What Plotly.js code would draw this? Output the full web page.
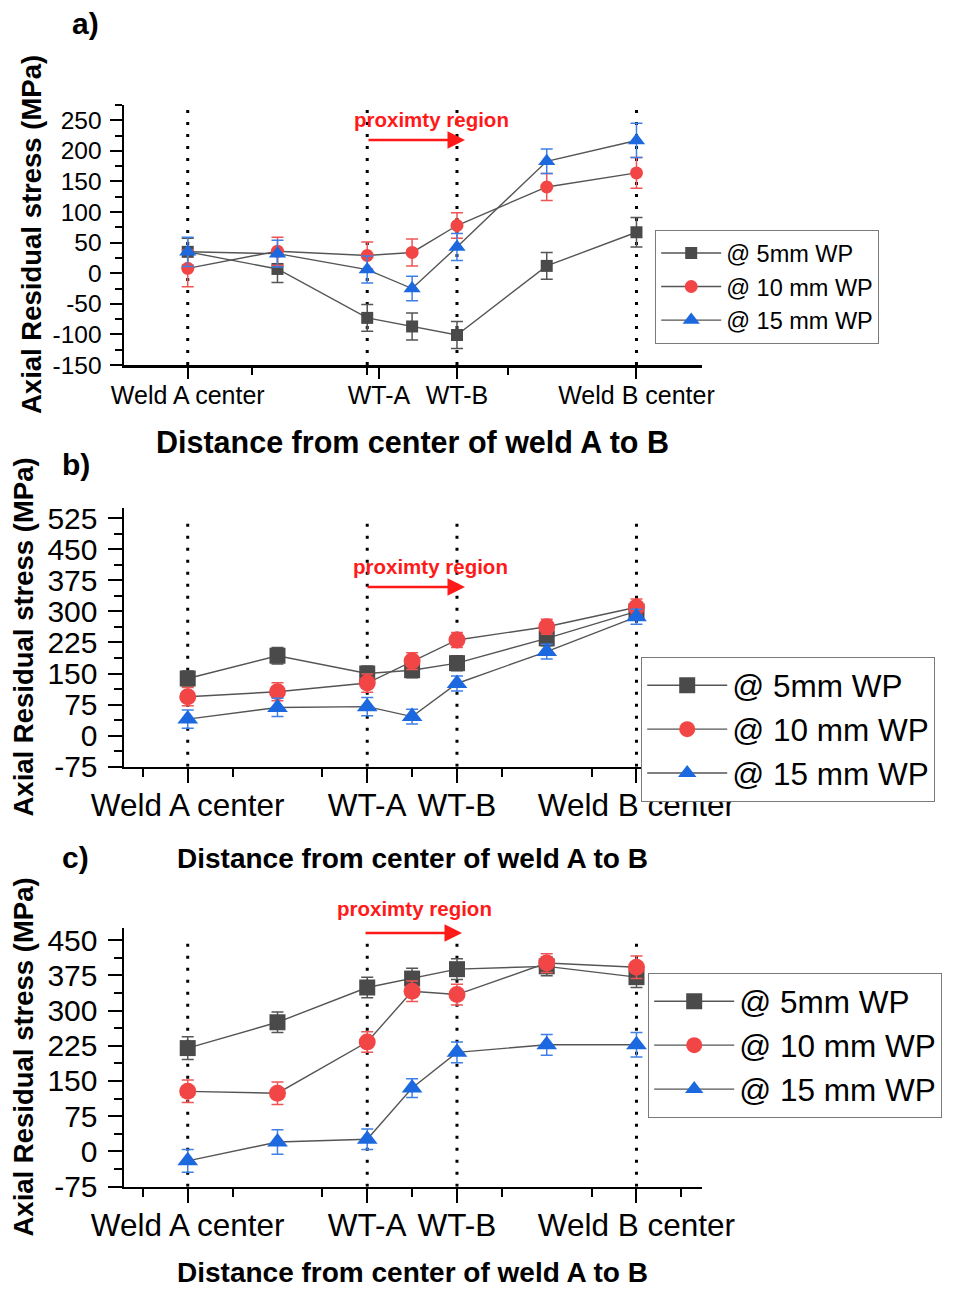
<!DOCTYPE html>
<html>
<head>
<meta charset="utf-8">
<script src="https://cdn.plot.ly/plotly-3.0.1.min.js"></script>
<style>
html,body{margin:0;padding:0;background:#fff;}
#chart{width:967px;height:1290px;}
</style>
</head>
<body>
<div id="chart"></div>
<script>
// ---------- data ----------
const xPositions = [0, 1, 2, 2.5, 3, 4, 5];
const seriesNames = ['@ 5mm WP', '@ 10 mm WP', '@ 15 mm WP'];
const xTickText = ['Weld A center', 'WT-A', 'WT-B', 'Weld B center'];

// panel a)
const a5 = [35, 7, -73, -87, -101, 12, 67];
const a5err = [22, 22, 22, 22, 22, 22, 24];
const a10 = [8, 36, 29, 34, 78, 141, 164];
const a10err = [30, 23, 22, 22, 21, 22, 25];
const a15 = [35, 32, 6, -25, 43, 183, 217];
const a15err = [24, 22, 22, 20, 22, 20, 28];

// panel b)
const b5 = [138, 193, 150, 158, 175, 235, 300];
const b5err = [18, 20, 18, 18, 18, 18, 18];
const b10 = [94, 106, 127, 180, 231, 263, 310];
const b10err = [22, 22, 22, 20, 18, 18, 20];
const b15 = [40, 68, 70, 46, 126, 203, 287];
const b15err = [22, 22, 22, 18, 18, 18, 18];

// panel c)
const c5 = [220, 275, 349, 368, 388, 394, 371];
const c5err = [24, 22, 22, 22, 22, 20, 22];
const c10 = [128, 124, 233, 341, 334, 401, 392];
const c10err = [24, 24, 22, 22, 22, 20, 24];
const c15 = [-20, 20, 26, 135, 211, 227, 227];
const c15err = [24, 26, 22, 20, 22, 22, 26];

const yTicksA = [-150, -100, -50, 0, 50, 100, 150, 200, 250];
const yTicksB = [-75, 0, 75, 150, 225, 300, 375, 450, 525];
const yTicksC = [-75, 0, 75, 150, 225, 300, 375, 450];

// ---------- style ----------
const W = 967, H = 1290;
const FONT = 'Liberation Sans, Arial, Helvetica, sans-serif';
const px = v => v / W;
const py = v => 1 - v / H;
const styles = [
  {symbol: 'square', color: '#4a4a4a', err: '#555555'},
  {symbol: 'circle', color: '#f24646', err: '#f05555'},
  {symbol: 'triangle-up', color: '#1c68de', err: '#3f80e6'}
];

const panels = [
  {xa: 'x', ya: 'y', leg: 'legend', ys: [a5, a10, a15], es: [a5err, a10err, a15err], sizes: [12, 13, 15]},
  {xa: 'x2', ya: 'y2', leg: 'legend2', ys: [b5, b10, b15], es: [b5err, b10err, b15err], sizes: [16, 17, 18]},
  {xa: 'x3', ya: 'y3', leg: 'legend3', ys: [c5, c10, c15], es: [c5err, c10err, c15err], sizes: [16, 17, 18]}
];

const traces = [];
panels.forEach(p => {
  p.ys.forEach((yv, i) => {
    traces.push({
      type: 'scatter', mode: 'lines+markers',
      x: xPositions, y: yv, name: seriesNames[i],
      xaxis: p.xa, yaxis: p.ya, legend: p.leg,
      line: {color: '#555555', width: 1.4},
      marker: {symbol: styles[i].symbol, color: styles[i].color, size: p.sizes[i]},
      error_y: {type: 'data', array: p.es[i], visible: true, color: styles[i].err, thickness: 1.5, width: 6},
      cliponaxis: false
    });
  });
});

function xAxis(anchor, big) {
  return {
    domain: [px(124), px(702)], range: [-0.71, 5.73], anchor: anchor,
    showline: true, linewidth: 2.5, linecolor: '#000', showgrid: false, zeroline: false,
    ticks: 'outside', ticklen: big ? 14 : 11, tickwidth: 2, tickcolor: '#000',
    tickmode: 'array', tickvals: big ? [0, 2, 3, 5] : [0, 2.13, 3, 5], ticktext: xTickText,
    tickfont: {family: FONT, size: big ? 31.5 : 25, color: '#000'},
    ticklabelstandoff: big ? -5 : -5,
    minor: {tickmode: 'array', tickvals: big ? [-0.5, 0.5, 1.5, 2.5, 3.5, 4.5, 5.5] : [0.72, 2, 3.57],
            ticks: 'outside', ticklen: big ? 8 : 7, tickwidth: 2, tickcolor: '#000'},
    fixedrange: true
  };
}
function yAxis(anchor, topPx, botPx, range, tv, step, big) {
  return {
    domain: [py(botPx), py(topPx)], range: range, anchor: anchor,
    showline: true, linewidth: 2.5, linecolor: '#000', showgrid: false, zeroline: false,
    ticks: 'outside', ticklen: big ? 14 : 12, tickwidth: 2, tickcolor: '#000',
    tickmode: 'array', tickvals: tv, ticktext: tv.map(v => String(v)),
    tickfont: {family: FONT, size: big ? 30 : 24.5, color: '#000'},
    ticklabelstandoff: big ? 4 : 3,
    minor: {tickmode: 'linear', tick0: tv[0], dtick: step / 2, ticks: 'outside', ticklen: big ? 8 : 7, tickwidth: 2, tickcolor: '#000'},
    fixedrange: true
  };
}

// dotted vertical guide lines at the labelled positions
const guideX = [0, 2, 3, 5];
const shapes = [];
[['x', 'y', -150, 270], ['x2', 'y2', -75, 517], ['x3', 'y3', -75, 452]].forEach(g => {
  guideX.forEach(gx => shapes.push({
    type: 'line', xref: g[0], yref: g[1], x0: gx, x1: gx, y0: g[2], y1: g[3],
    line: {color: '#000', width: 3, dash: '3px,9px'}, layer: 'below'
  }));
});

const annotations = [];
function txt(x, y, text, size, opts) {
  annotations.push(Object.assign({
    xref: 'paper', yref: 'paper', x: px(x), y: py(y), text: text, showarrow: false,
    xanchor: 'center', yanchor: 'middle', font: {family: FONT, size: size, color: '#000'}
  }, opts || {}));
}
// panel letters
txt(85, 24, '<b>a)</b>', 30);
txt(76, 465, '<b>b)</b>', 30);
txt(75, 857, '<b>c)</b>', 30);
// y titles
txt(31, 235, '<b>Axial Residual stress (MPa)</b>', 27.5, {textangle: -90});
txt(23, 637.5, '<b>Axial Residual stress (MPa)</b>', 27.5, {textangle: -90});
txt(23, 1057.5, '<b>Axial Residual stress (MPa)</b>', 27.5, {textangle: -90});
// x titles
txt(412, 442, '<b>Distance from center of weld A to B</b>', 30.5);
txt(412, 858, '<b>Distance from center of weld A to B</b>', 28);
txt(412, 1272, '<b>Distance from center of weld A to B</b>', 28);
// proximity labels
const RED = '#ff1a1a';
[[431.5, 120], [430, 566], [414, 908]].forEach(p => {
  annotations.push({xref: 'paper', yref: 'paper', x: px(p[0]), y: py(p[1]), text: '<b>proximty region</b>',
    showarrow: false, xanchor: 'center', yanchor: 'middle', font: {family: FONT, size: 20.5, color: RED}});
});
// arrows
[[367, 465, 140], [366, 465, 587], [364, 462, 933]].forEach(a => {
  annotations.push({xref: 'paper', yref: 'paper', x: px(a[1]), y: py(a[2]), ax: a[0] - a[1], ay: 0,
    text: '', showarrow: true, arrowhead: 2, arrowsize: 1.4, arrowwidth: 2.5, arrowcolor: RED, standoff: 0});
});

function legend(x, y, size, iw) {
  return {x: px(x), y: py(y), xanchor: 'left', yanchor: 'top', bgcolor: '#fff',
    bordercolor: '#7a7a7a', borderwidth: 1.2, font: {family: FONT, size: size, color: '#000'},
    itemwidth: iw, tracegroupgap: 0};
}

const layout = {
  width: W, height: H, margin: {l: 0, r: 0, t: 0, b: 0},
  paper_bgcolor: '#fff', plot_bgcolor: 'rgba(0,0,0,0)',
  font: {family: FONT, color: '#000'},
  showlegend: true,
  xaxis: xAxis('y', false),
  yaxis: yAxis('x', 105, 365, [-150, 275], yTicksA, 50, false),
  xaxis2: xAxis('y2', true),
  yaxis2: yAxis('x2', 508.3, 766.7, [-75, 549], yTicksB, 75, true),
  xaxis3: xAxis('y3', true),
  yaxis3: yAxis('x3', 928.3, 1186.7, [-75, 475], yTicksC, 75, true),
  legend: legend(655, 230, 23.5, 60),
  legend2: legend(641, 657, 31.5, 80),
  legend3: legend(648, 973, 31.5, 80),
  shapes: shapes,
  annotations: annotations
};

Plotly.newPlot('chart', traces, layout, {staticPlot: true, displayModeBar: false});
</script>
</body>
</html>
